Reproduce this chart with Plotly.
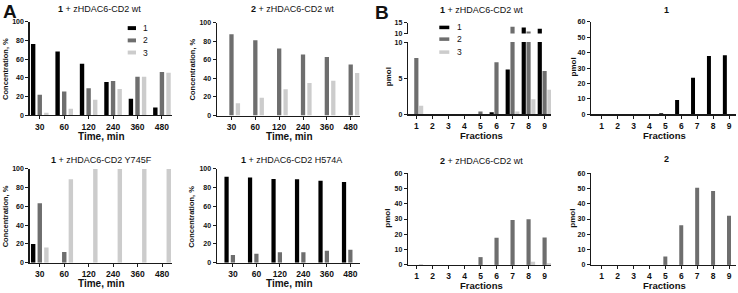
import plotly.graph_objects as go

W, H = 738, 293

times = ["30", "60", "120", "240", "360", "480"]
fractions = [1, 2, 3, 4, 5, 6, 7, 8, 9]
series_names = ["1", "2", "3"]

# Panel A (concentration, %)
a1_c1 = [76, 68, 55, 35.5, 17.7, 8.3]
a1_c2 = [22, 25.3, 28.8, 36.5, 41, 46.2]
a1_c3 = [2.8, 7, 16.7, 28, 41, 45.5]

a2_c1 = [0, 0, 0, 0, 0, 0]
a2_c2 = [87.4, 81, 72, 65.7, 63, 55]
a2_c3 = [13.3, 19.2, 28.3, 35, 37.4, 45.8]

a3_c1 = [20, 0, 0, 0, 0, 0]
a3_c2 = [63.5, 11.5, 0, 0, 0, 0]
a3_c3 = [16.3, 89, 100, 100, 100, 100]

a4_c1 = [91.7, 91, 89.2, 88.9, 87.5, 86.1]
a4_c2 = [8.3, 9.4, 11.1, 11.1, 12.8, 13.9]
a4_c3 = [0, 0, 0, 0, 0, 0]

# Panel B (pmol)
b1_c1 = [0, 0, 0, 0, 0, 0.3, 6.2, 12.7, 12.2]
b1_c2 = [7.8, 0, 0, 0, 0.4, 7.2, 13.1, 10.9, 6.0]
b1_c3 = [1.2, 0, 0, 0, 0, 0, 0.4, 2.1, 3.4]

b2_c1 = [0, 0, 0, 0, 0.6, 9.3, 23.7, 37.8, 38.3]

b3_c2 = [0, 0, 0, 0, 5.1, 17.7, 29.4, 29.8, 17.9]
b3_c3 = [0.5, 0, 0, 0, 0, 0, 0, 2.1, 1.1]

b4_c2 = [0, 0, 0, 0, 5.5, 26, 50.4, 48.3, 32.1]

COLORS = ["#000000", "#6e6e6e", "#cccccc"]
FONT = "Liberation Sans, Arial, Helvetica, sans-serif"
AX = "#1a1a1a"


def xd(l, r):
    return [l / W, r / W]


def yd(t, b):
    return [1 - b / H, 1 - t / H]


fig = go.Figure()


def add_bars(x, ys, xa, ya, width, off, idx):
    for i, y in zip(idx, ys):
        center = (i - 1) * off
        fig.add_trace(go.Bar(
            x=x, y=y, xaxis=xa, yaxis=ya,
            width=width, offset=center - width / 2,
            marker=dict(color=COLORS[i], line=dict(width=0)),
            showlegend=False, hoverinfo="skip"))


AW, AO = 0.18, 0.27
BW, BO = 0.26, 0.3

add_bars(times, [a1_c1, a1_c2, a1_c3], "x", "y", AW, AO, [0, 1, 2])
add_bars(times, [a2_c1, a2_c2, a2_c3], "x2", "y2", AW, AO, [0, 1, 2])
add_bars(times, [a3_c1, a3_c2, a3_c3], "x3", "y3", AW, AO, [0, 1, 2])
add_bars(times, [a4_c1, a4_c2, a4_c3], "x4", "y4", AW, AO, [0, 1, 2])
add_bars(fractions, [b1_c1, b1_c2, b1_c3], "x5", "y5", BW, BO, [0, 1, 2])
add_bars(fractions, [b1_c1, b1_c2, b1_c3], "x5", "y6", BW, BO, [0, 1, 2])
add_bars(fractions, [b2_c1], "x7", "y7", 0.25, 0.26, [0])
add_bars(fractions, [b3_c2, b3_c3], "x8", "y8", BW, 0.28, [1, 2])
add_bars(fractions, [b4_c2], "x9", "y9", 0.25, 0.26, [1])

xbase = dict(showline=True, linecolor=AX, linewidth=1.2, ticks="outside",
             ticklen=3, tickwidth=1, tickcolor=AX, showgrid=False, zeroline=False,
             tickfont=dict(family=FONT, size=8.5, color="#111", weight="bold"),
             fixedrange=True)
ybase = dict(showline=True, linecolor=AX, linewidth=1.2, ticks="outside",
             ticklen=3, tickwidth=1, tickcolor=AX, showgrid=False, zeroline=False,
             tickfont=dict(family=FONT, size=7, color="#111", weight="bold"),
             fixedrange=True)

layout_axes = {}


def set_x(name, dom, rng, anchor, cat=True):
    d = dict(xbase, domain=xd(*dom), range=rng, anchor=anchor)
    if cat:
        d["type"] = "category"
    else:
        d["tickmode"] = "array"
        d["tickvals"] = fractions
    layout_axes[name] = d


def set_y(name, dom, rng, anchor, dtick, tickvals=None):
    d = dict(ybase, domain=yd(*dom), range=rng, anchor=anchor)
    if tickvals is not None:
        d["tickmode"] = "array"
        d["tickvals"] = tickvals
    else:
        d["dtick"] = dtick
    layout_axes[name] = d


set_x("xaxis", (29.5, 171.7), [-0.42, 5.4], "y")
set_y("yaxis", (18, 114), [0, 100], "x", 20)
set_x("xaxis2", (216.7, 360), [-0.62, 5.39], "y2")
set_y("yaxis2", (19, 114.3), [0, 100], "x2", 20)
set_x("xaxis3", (29.5, 171.7), [-0.42, 5.39], "y3")
set_y("yaxis3", (169, 265), [0, 100], "x3", 20)
set_x("xaxis4", (216.7, 360), [-0.69, 5.41], "y4")
set_y("yaxis4", (169, 265), [0, 100], "x4", 20)

set_x("xaxis5", (408, 551), [0.48, 9.4], "y5", cat=False)
set_y("yaxis5", (39, 113), [0, 10], "x5", 5, tickvals=[0, 5, 10])
set_y("yaxis6", (19, 30.3), [10, 15], "x5", 5, tickvals=[10, 15])
set_x("xaxis7", (591, 736), [0.33, 9.44], "y7", cat=False)
set_y("yaxis7", (18.3, 113), [0, 60], "x7", 10)
set_x("xaxis8", (408, 551), [0.47, 9.4], "y8", cat=False)
set_y("yaxis8", (173.3, 267.3), [0, 60], "x8", 10)
set_x("xaxis9", (591, 736), [0.33, 9.44], "y9", cat=False)
set_y("yaxis9", (173.3, 267.3), [0, 60], "x9", 10)

annotations = []
shapes = []


def text(x, y, s, size, angle=0, xanchor="center", bold=False, color="#111"):
    annotations.append(dict(
        x=x / W, y=1 - y / H, xref="paper", yref="paper", text=s,
        showarrow=False, xanchor=xanchor, yanchor="middle", textangle=angle,
        font=dict(family=FONT, size=size, color=color,
                  weight="bold" if bold else "normal")))


# Panel letters
text(9.5, 8, "<b>A</b>", 19)
text(382, 9, "<b>B</b>", 19)

# Titles
TS = 9
text(99.5, 5, "<b>1</b> + zHDAC6-CD2 wt", TS)
text(292.5, 5, "<b>2</b> + zHDAC6-CD2 wt", TS)
text(101, 160, "<b>1</b> + zHDAC6-CD2 Y745F", TS)
text(291, 160, "<b>1</b> + zHDAC6-CD2 H574A", TS)
text(481.5, 6, "<b>1</b> + zHDAC6-CD2 wt", TS)
text(666, 6, "<b>1</b>", TS)
text(481, 161, "<b>2</b> + zHDAC6-CD2 wt", TS)
text(666, 159, "<b>2</b>", TS)

# Axis titles
for xc, yc in [(101, 136), (289, 136), (101, 286.5), (289, 286.5)]:
    text(xc, yc, "<b>Time, min</b>", 10)
for xc, yc in [(5.5, 67), (192, 67), (5.5, 218), (192, 218)]:
    text(xc, yc, "<b>Concentration, %</b>", 7.5, angle=-90)
for xc, yc in [(481, 135), (664, 135), (481, 288), (664, 288)]:
    text(xc, yc, "<b>Fractions</b>", 9.5)
for xc, yc in [(388, 75), (573, 65), (388, 220), (573, 220)]:
    text(xc, yc, "<b>pmol</b>", 8, angle=-90)


def legend(x0, x1, ys, h, lx):
    for i, yc in enumerate(ys):
        shapes.append(dict(type="rect", xref="paper", yref="paper",
                           x0=x0 / W, x1=x1 / W,
                           y0=1 - (yc + h / 2) / H, y1=1 - (yc - h / 2) / H,
                           fillcolor=COLORS[i], line=dict(width=0)))
        text(lx, yc, series_names[i], 8.5, xanchor="left")


legend(127.7, 136, [24.7, 37.3, 49.7], 4, 140.5)
legend(439.3, 449.3, [24, 36, 49.3], 3.6, 454.5)

fig.update_layout(
    width=W, height=H, margin=dict(l=0, r=0, t=0, b=0),
    paper_bgcolor="white", plot_bgcolor="white",
    barmode="overlay", showlegend=False,
    font=dict(family=FONT, color="#111"),
    annotations=annotations, shapes=shapes,
    **layout_axes)

fig.write_html(
    "out.html",
    config={"displayModeBar": False, "staticPlot": True},
    post_script="document.documentElement.style.margin='0';"
                "document.body.style.margin='0';"
                "document.body.style.overflow='hidden';",
)
